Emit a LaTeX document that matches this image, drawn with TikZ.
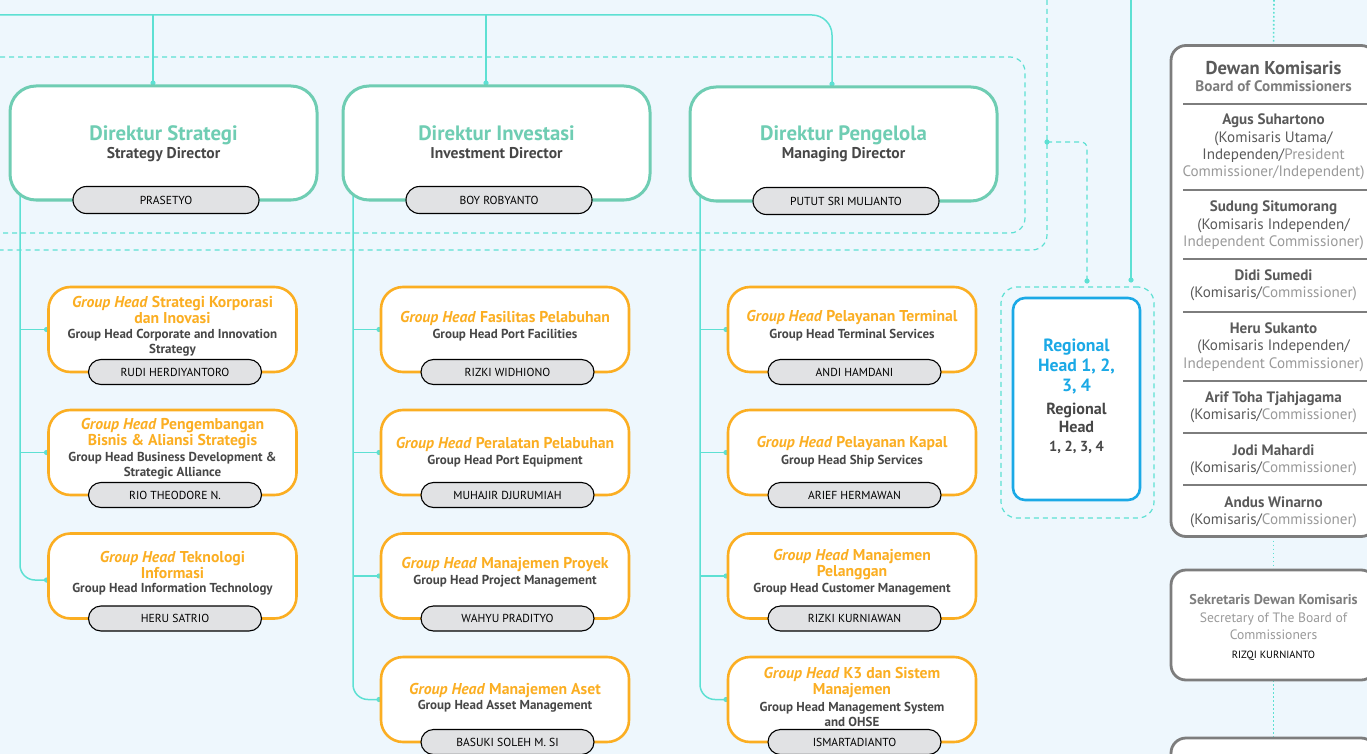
\documentclass[tikz,border=0pt]{standalone}
\usepackage{fontspec}
\setmainfont{PT Sans}
\usetikzlibrary{calc}
\definecolor{bgc}{HTML}{EEF7FD}
\definecolor{aqua}{HTML}{5DE0D3}
\definecolor{dirc}{HTML}{6FCDB3}
\definecolor{orng}{HTML}{FBAE22}
\definecolor{dkt}{HTML}{474747}
\definecolor{gbord}{HTML}{7D7D7D}
\definecolor{lgt}{HTML}{9A9A9A}
\definecolor{midg}{HTML}{5A5A5A}
\definecolor{pillc}{HTML}{E1E2E4}
\definecolor{blu}{HTML}{1BA9E6}
\pgfdeclarelayer{back}
\pgfdeclarelayer{lines}
\pgfsetlayers{back,lines,main}
\newcommand{\ltg}[1]{\textcolor{lgt}{#1}}
\tikzset{
  conn/.style={draw=aqua, line width=1.5pt},
  dsh/.style={draw=aqua, line width=1.2pt, dash pattern=on 5pt off 4pt},
  dotl/.style={draw=aqua, line width=1.6pt, dash pattern=on 1.6pt off 2.4pt},
  txt/.style={inner sep=0pt, yshift=-2pt},
  dirbox/.style={draw=dirc, line width=3pt, fill=white, rounded corners=26pt, minimum width=307pt, minimum height=114pt, outer sep=0pt, inner sep=0pt},
  dpill/.style={draw=black, line width=1.1pt, fill=pillc, rounded corners=13.5pt, minimum width=186pt, minimum height=27pt, font=\fontsize{11.6}{12}\selectfont, text=black, inner sep=0pt},
  dtitle/.style={inner sep=0pt, yshift=-5pt, font=\bfseries\fontsize{20.8}{22}\selectfont, text=dirc, text height=0.72em, text depth=0.22em},
  dsub/.style={inner sep=0pt, yshift=-3pt, font=\bfseries\fontsize{15.6}{17}\selectfont, text=dkt, text height=0.72em, text depth=0.22em},
  ghbox/.style={draw=orng, line width=2.6pt, fill=white, rounded corners=22pt, minimum width=248pt, minimum height=85pt, outer sep=0pt, inner sep=0pt},
  pill/.style={draw=black, line width=1.1pt, fill=pillc, rounded corners=12.5pt, minimum width=173pt, minimum height=25pt, font=\fontsize{11.6}{12}\selectfont, text=black, inner sep=0pt},
  ghtitle/.style={txt, font=\bfseries\fontsize{15.7}{16}\selectfont, text=orng, align=center},
  ghsub/.style={txt, font=\bfseries\fontsize{13}{15.5}\selectfont, text=dkt, align=center},
  gbox/.style={draw=gbord, line width=2.8pt, fill=white, rounded corners=15pt, minimum width=205pt, outer sep=0pt, inner sep=0pt},
  dtx/.style={txt, font=\fontsize{15.1}{17.4}\selectfont, text=midg, align=center},
  sepl/.style={draw=gbord, line width=1.3pt},
  rgbox/.style={draw=blu, line width=2.6pt, fill=white, rounded corners=12pt, minimum width=127pt, minimum height=202pt, outer sep=0pt},
  rgout/.style={dsh, rounded corners=16pt, minimum width=153pt, minimum height=231pt, outer sep=0pt}
}
\newcommand{\GHbox}[8]{%
  \node[ghbox] (#1) at (#2,#3) {};
  \node[ghtitle] (#1t) at (#2,#4) {#5};
  \node[ghsub] (#1s) at (#2,#6) {#7};
  \node[pill] (#1p) at ($(#1.south)+(2.5,0)$) {#8};
}
\newcommand{\DIRbox}[6]{%
  \node[dirbox] (#1) at (#2,#3) {};
  \node[dtitle] (#1t) at (#2,133) {#4};
  \node[dsub] (#1s) at (#2,153) {#5};
  \node[dpill] (#1p) at ($(#1.south)+(2.5,0)$) {#6};
}
\begin{document}
\begin{tikzpicture}[x=1pt,y=-1pt]
\useasboundingbox (0,0) rectangle (1367,754);
\begin{pgfonlayer}{back}
\fill[bgc] (0,0) rectangle (1367,754);
\end{pgfonlayer}

% Directors
\DIRbox{d1}{163.5}{143}{Direktur Strategi}{Strategy Director}{PRASETYO}
\DIRbox{d2}{496.5}{143}{Direktur Investasi}{Investment Director}{BOY ROBYANTO}
\DIRbox{d3}{843.5}{144}{Direktur Pengelola}{Managing Director}{PUTUT SRI MULJANTO}

% Group heads column 1
\GHbox{g11}{172.5}{329.5}{308}{\textit{Group Head} Strategi Korporasi\\dan Inovasi}{340.5}{Group Head Corporate and Innovation\\Strategy}{RUDI HERDIYANTORO}
\GHbox{g12}{172.5}{452.5}{432}{\textit{Group Head} Pengembangan\\Bisnis \& Aliansi Strategis}{463.5}{Group Head Business Development \&\\Strategic Alliance}{RIO THEODORE N.}
\GHbox{g13}{172.5}{576}{563}{\textit{Group Head} Teknologi\\Informasi}{587}{Group Head Information Technology}{HERU SATRIO}
% column 2
\GHbox{g21}{505}{329.5}{316}{\textit{Group Head} Fasilitas Pelabuhan}{333}{Group Head Port Facilities}{RIZKI WIDHIONO}
\GHbox{g22}{505}{452.5}{442}{\textit{Group Head} Peralatan Pelabuhan}{459}{Group Head Port Equipment}{MUHAJIR DJURUMIAH}
\GHbox{g23}{505}{576}{563}{\textit{Group Head} Manajemen Proyek}{579}{Group Head Project Management}{WAHYU PRADITYO}
\GHbox{g24}{505}{699.5}{689}{\textit{Group Head} Manajemen Aset}{704}{Group Head Asset Management}{BASUKI SOLEH M. SI}
% column 3
\GHbox{g31}{852}{329.5}{316}{\textit{Group Head} Pelayanan Terminal}{333}{Group Head Terminal Services}{ANDI HAMDANI}
\GHbox{g32}{852}{452.5}{442}{\textit{Group Head} Pelayanan Kapal}{459}{Group Head Ship Services}{ARIEF HERMAWAN}
\GHbox{g33}{852}{576}{563}{\textit{Group Head} Manajemen\\Pelanggan}{587}{Group Head Customer Management}{RIZKI KURNIAWAN}
\GHbox{g34}{852}{699.5}{681}{\textit{Group Head} K3 dan Sistem\\Manajemen}{712.5}{Group Head Management System\\and OHSE}{ISMARTADIANTO}

% Regional head
\node[rgout] (rgo) at (1077.5,402.5) {};
\node[rgbox] (rg) at (1076.5,399) {};
\node[txt, font=\bfseries\fontsize{17.7}{20}\selectfont, text=blu, align=center] (rgt) at (1076.5,365) {Regional\\Head 1, 2,\\3, 4};
\node[txt, font=\bfseries\fontsize{16.1}{18.5}\selectfont, text=dkt, align=center] (rgs) at (1076.5,416) {Regional\\Head};
\node[txt, font=\bfseries\fontsize{14.5}{16}\selectfont, text=dkt] (rgn) at (1076.5,445) {1, 2, 3, 4};

% Board of commissioners
\node[gbox, minimum height=491pt] (dk) at (1273.5,291) {};
\node[txt, font=\bfseries\fontsize{18.6}{20}\selectfont, text=midg] (dkt) at (1273.5,66) {Dewan Komisaris};
\node[txt, font=\bfseries\fontsize{15.2}{16}\selectfont, text=gbord] (dks) at (1273.5,84) {Board of Commissioners};
\foreach \yy in {104,190,259,312,381,433,485} {\draw[sepl] (1183,\yy) -- (1380,\yy);}
\node[dtx] (k1) at (1273.5,145) {\textbf{Agus Suhartono}\\(Komisaris Utama/\\Independen/\ltg{President}\\\ltg{Commissioner/Independent)}};
\node[dtx] (k2) at (1273.5,223.5) {\textbf{Sudung Situmorang}\\(Komisaris Independen/\\\ltg{Independent Commissioner)}};
\node[dtx] (k3) at (1273.5,283.5) {\textbf{Didi Sumedi}\\(Komisaris/\ltg{Commissioner)}};
\node[dtx] (k4) at (1273.5,345) {\textbf{Heru Sukanto}\\(Komisaris Independen/\\\ltg{Independent Commissioner)}};
\node[dtx] (k5) at (1273.5,405.5) {\textbf{Arif Toha Tjahjagama}\\(Komisaris/\ltg{Commissioner)}};
\node[dtx] (k6) at (1273.5,458.5) {\textbf{Jodi Mahardi}\\(Komisaris/\ltg{Commissioner)}};
\node[dtx] (k7) at (1273.5,510.5) {\textbf{Andus Winarno}\\(Komisaris/\ltg{Commissioner)}};

% Secretary
\node[gbox, minimum height=110pt] (sk) at (1273.5,625) {};
\node[txt, font=\bfseries\fontsize{14.2}{15}\selectfont, text=gbord] (skt) at (1273.5,598) {Sekretaris Dewan Komisaris};
\node[txt, font=\fontsize{13.6}{17}\selectfont, text=lgt, align=center] (sks) at (1273.5,624.5) {Secretary of The Board of\\Commissioners};
\node[txt, font=\fontsize{10.5}{12}\selectfont, text=black] (skn) at (1273.5,654) {RIZQI KURNIANTO};
\node[gbox, minimum height=104pt] (nx) at (1273.5,790) {};

% Coordinates for free ends
\coordinate (topL) at (0,15);
\coordinate (dashA1) at (0,57);
\coordinate (dashA2) at (1025,57);
\coordinate (dashA3) at (1025,233);
\coordinate (dashA4) at (0,233);
\coordinate (dashB0) at (1047,0);
\coordinate (dashB1) at (1047,250);
\coordinate (dashB2) at (0,250);
\coordinate (dashBr) at (1047,142);
\coordinate (solT) at (1131,0);
\coordinate (dotT) at (1274,0);

\begin{pgfonlayer}{lines}
% top solid bus
\draw[conn, rounded corners=20pt] (topL) -| ([xshift=-11.5pt,yshift=3pt]d3.north);
\draw[conn] ([xshift=-10.5pt]d1.north |- topL) -- ([xshift=-10.5pt,yshift=3pt]d1.north);
\draw[conn] ([xshift=-10.5pt]d2.north |- topL) -- ([xshift=-10.5pt,yshift=3pt]d2.north);
\foreach \n/\s in {d1/-10.5,d2/-10.5,d3/-11.5} {\fill[aqua] ([xshift=\s pt,yshift=3pt]\n.north) circle (2.6);}
% dashed enclosures
\draw[dsh, rounded corners=15pt] (dashA1) -- (dashA2) -- (dashA3) -- (dashA4);
\draw[dsh, rounded corners=15pt] (dashB0) -- (dashB1) -- (dashB2);
\draw[dsh, rounded corners=6pt] (dashBr) -| ([xshift=9.5pt,yshift=6pt]rgo.north);
\fill[aqua] (dashBr) circle (2.6);
\fill[aqua] ([xshift=9.5pt,yshift=6pt]rgo.north) circle (2.6);
% solid line to regional
\draw[conn] (solT) -- ([xshift=53.5pt,yshift=7pt]rgo.north);
\fill[aqua] ([xshift=53.5pt,yshift=7pt]rgo.north) circle (2.6);
% dotted line to commissioners
\draw[dotl] (dotT) -- (dk.north);
\draw[dotl] (dk.south) -- (sk.north);
\draw[dotl] (sk.south) -- (nx.north);
% director branches
\draw[conn, rounded corners=15pt] ([xshift=10pt]d1.west) |- ([yshift=-4pt]g13.west);
\draw[conn] ([xshift=10pt]d1.west |- g11.west) -- (g11.west);
\draw[conn] ([xshift=10pt]d1.west |- g12.west) -- (g12.west);
\draw[conn, rounded corners=15pt] ([xshift=10pt]d2.west) |- (g24.west);
\foreach \g in {g21,g22,g23} {\draw[conn] ([xshift=10pt]d2.west |- \g.west) -- (\g.west);}
\draw[conn, rounded corners=15pt] ([xshift=10pt]d3.west) |- (g34.west);
\foreach \g in {g31,g32,g33} {\draw[conn] ([xshift=10pt]d3.west |- \g.west) -- (\g.west);}
\foreach \g in {g11,g12,g21,g22,g23,g24,g31,g32,g33,g34} {\fill[aqua] ([xshift=-2pt]\g.west) circle (2.6);}
\fill[aqua] ([xshift=-2pt,yshift=-4pt]g13.west) circle (2.6);
\end{pgfonlayer}
\end{tikzpicture}
\end{document}
